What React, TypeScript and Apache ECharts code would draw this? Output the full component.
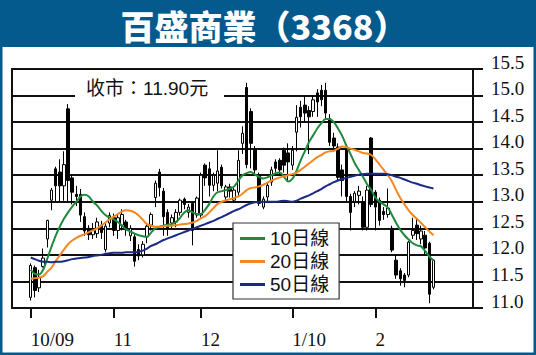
import React, { useEffect, useRef } from "react";
import * as echarts from "echarts";

// ---- data ----
const tickLabels = ["10/09", "11", "12", "1/10", "2"];
const tickDataIndex = [0, 20, 41, 63, 83];
const padBefore = 4;
const padAfter = 9;

const openP = [11.20,11.76,11.38,11.78,12.30,13.03,13.62,13.56,13.30,14.75,13.45,13.14,13.14,12.72,12.50,12.38,12.40,12.56,12.10,12.60,
12.70,12.46,12.56,12.62,12.36,12.34,12.10,12.00,12.34,12.56,13.08,13.56,13.20,12.80,12.60,12.62,12.80,13.05,12.80,12.97,12.75,
12.75,13.69,13.62,13.31,13.35,13.65,13.09,13.28,13.03,13.18,14.10,15.15,14.70,14.00,13.50,12.90,13.09,13.37,13.75,13.78,13.97,13.92,
13.69,14.31,14.78,14.82,14.72,14.70,15.05,15.10,15.10,14.57,14.20,14.03,13.60,14.00,13.10,13.00,13.12,12.99,12.52,14.20,
13.18,13.03,12.82,12.76,12.50,11.90,11.70,11.62,11.62,12.37,12.56,12.30,12.37,12.22,11.39];
const closeP = [11.80,11.33,11.58,11.94,12.65,13.22,13.30,13.30,13.70,13.40,13.18,13.10,12.75,12.45,12.38,12.46,12.62,12.42,12.54,12.74,
12.46,12.70,12.76,12.50,12.50,11.88,11.98,12.20,12.54,12.76,13.35,13.27,12.72,12.50,12.70,12.80,13.03,12.95,12.90,12.46,13.07,
13.50,13.45,13.31,13.50,13.58,13.30,13.28,13.20,13.22,13.78,14.29,13.70,14.10,13.60,12.97,13.05,13.31,13.60,13.63,13.60,13.69,13.75,
13.97,14.59,14.60,14.67,14.60,14.92,14.88,14.92,14.67,14.12,14.05,13.46,13.40,13.10,12.80,13.16,13.20,12.52,13.22,12.95,
12.90,12.65,12.76,12.88,12.09,11.62,11.55,11.52,12.24,12.46,12.40,12.45,12.13,11.26,11.90];
const lowP = [11.14,11.20,11.30,11.76,12.14,12.84,13.00,13.00,13.02,13.00,12.95,12.92,12.62,12.36,12.28,12.30,12.32,12.30,12.05,12.52,
12.36,12.30,12.46,12.36,12.26,11.78,11.90,11.95,12.22,12.46,12.90,13.10,12.36,12.36,12.50,12.52,12.74,12.86,12.70,12.18,12.70,
12.70,13.30,13.10,13.20,13.20,13.25,13.00,13.08,12.98,13.10,13.90,13.63,13.63,13.50,12.92,12.86,13.00,13.30,13.55,13.50,13.55,13.40,
13.60,13.95,14.40,14.50,13.90,14.60,14.60,14.80,14.55,14.05,13.95,13.40,13.10,13.00,12.46,12.90,12.95,12.46,12.46,12.90,
12.46,12.55,12.66,12.70,12.05,11.55,11.42,11.39,11.58,12.30,12.28,12.20,12.00,11.09,11.35];
const highP = [11.84,11.80,11.72,12.12,12.66,13.26,13.66,13.80,13.95,14.84,13.50,13.30,13.24,12.80,12.56,12.60,12.70,12.64,12.60,12.80,
12.78,12.76,12.86,12.66,12.56,12.40,12.20,12.26,12.60,12.80,13.40,13.62,13.26,12.86,12.76,12.86,13.06,13.08,12.96,13.00,13.10,
13.55,13.72,13.75,13.55,13.97,13.70,13.32,13.34,13.26,13.97,14.42,15.24,14.76,14.05,13.55,13.10,13.36,13.66,13.80,13.82,14.02,14.10,
14.05,14.82,14.90,15.00,14.80,15.00,15.12,15.20,15.24,14.65,14.30,14.10,13.70,14.05,13.15,13.20,13.30,13.10,13.30,14.22,
13.22,13.08,12.90,13.25,12.55,12.00,11.75,11.66,12.26,12.70,12.68,12.55,12.45,12.25,11.92];

const ma10 = [11.72,11.64,11.63,11.72,11.93,12.15,12.36,12.53,12.68,12.80,12.91,13.00,13.10,13.13,13.10,13.00,12.93,12.83,12.75,12.70,
12.67,12.62,12.55,12.48,12.44,12.40,12.37,12.35,12.34,12.42,12.50,12.53,12.55,12.57,12.58,12.62,12.70,12.80,12.84,12.80,12.77,
12.77,12.85,12.96,13.10,13.18,13.20,13.22,13.25,13.29,13.40,13.50,13.54,13.56,13.51,13.47,13.44,13.46,13.50,13.54,13.55,13.47,13.38,
13.43,13.58,13.78,13.95,14.12,14.25,14.38,14.48,14.56,14.56,14.50,14.38,14.24,14.06,13.90,13.73,13.60,13.47,13.33,13.22,
13.08,13.00,12.95,12.89,12.75,12.60,12.47,12.37,12.29,12.22,12.18,12.16,12.07,11.97,11.89];
const ma20 = [11.55,11.56,11.57,11.60,11.68,11.76,11.88,11.99,12.10,12.20,12.27,12.32,12.36,12.39,12.43,12.46,12.50,12.55,12.61,12.67,
12.72,12.77,12.82,12.84,12.83,12.80,12.74,12.66,12.58,12.55,12.53,12.53,12.54,12.55,12.55,12.56,12.57,12.58,12.59,12.61,12.64,
12.69,12.73,12.80,12.88,12.96,13.00,13.03,13.05,13.07,13.10,13.15,13.22,13.26,13.27,13.29,13.32,13.36,13.40,13.43,13.46,13.48,13.50,
13.52,13.55,13.60,13.66,13.72,13.78,13.84,13.88,13.93,13.95,13.96,14.00,14.04,14.03,14.00,13.98,13.95,13.92,13.91,13.88,
13.80,13.70,13.60,13.50,13.38,13.22,13.07,12.95,12.84,12.75,12.68,12.60,12.52,12.44,12.37];
const ma50 = [11.95,11.92,11.89,11.87,11.87,11.86,11.87,11.87,11.88,11.90,11.92,11.93,11.94,11.95,11.96,11.98,11.99,12.00,12.02,12.03,
12.04,12.04,12.04,12.05,12.05,12.05,12.06,12.08,12.12,12.17,12.20,12.24,12.28,12.31,12.34,12.37,12.40,12.43,12.46,12.49,12.52,
12.55,12.58,12.61,12.64,12.68,12.71,12.75,12.79,12.83,12.86,12.90,12.94,12.97,12.99,13.00,13.00,13.00,13.00,13.00,13.01,13.02,13.01,
13.00,13.02,13.06,13.09,13.12,13.16,13.20,13.24,13.29,13.33,13.37,13.40,13.43,13.45,13.47,13.49,13.51,13.52,13.53,13.53,
13.53,13.53,13.53,13.52,13.50,13.47,13.45,13.42,13.39,13.36,13.34,13.31,13.29,13.27,13.25];

const seriesNames = ["10日線", "20日線", "50日線"];
const seriesColors = ["#1f8a3c", "#f5871f", "#1c2a84"];
const titleText = "百盛商業（3368）";
const closeNote = "收市：11.90元";

export default function App() {
  const ref = useRef<HTMLDivElement>(null);
  useEffect(() => {
    document.body.style.margin = "0";
    if (!ref.current) return;
    const chart = echarts.init(ref.current, undefined, { renderer: "svg" });
    const n = openP.length;
    const total = padBefore + n + padAfter;
    const cats = Array.from({ length: total }, (_, i) => String(i));
    const labelMap: Record<number, string> = {};
    tickDataIndex.forEach((d, k) => (labelMap[d + padBefore] = tickLabels[k]));
    const isTick = (i: number) => labelMap[i] !== undefined;
    const pre = Array(padBefore).fill(null);
    const post = Array(padAfter).fill(null);
    const candle = [
      ...pre.map(() => "-"),
      ...openP.map((o, i) => [o, closeP[i], lowP[i], highP[i]]),
      ...post.map(() => "-"),
    ];
    const mas = [ma10, ma20, ma50];
    const serif = "'Liberation Serif', 'DejaVu Serif', serif";
    const sans = "'Liberation Sans', 'Noto Sans CJK TC', sans-serif";
    chart.setOption({
      animation: false,
      backgroundColor: "#ffffff",
      grid: {
        left: 12, right: 63, top: 69, bottom: 47,
        show: true, borderColor: "#111", borderWidth: 2, backgroundColor: "transparent",
      },
      xAxis: {
        type: "category",
        data: cats,
        boundaryGap: true,
        axisLine: { show: true, lineStyle: { color: "#111", width: 2 } },
        axisTick: {
          show: true, alignWithLabel: true, length: 10,
          interval: (i: number) => isTick(i),
          lineStyle: { color: "#111", width: 2 },
        },
        axisLabel: {
          interval: (i: number) => isTick(i),
          formatter: (_v: string, i: number) => labelMap[i] ?? "",
          align: "left", margin: 22,
          fontFamily: serif, fontSize: 19, color: "#111",
        },
        splitLine: { show: false },
      },
      yAxis: {
        type: "value", position: "right", min: 11, max: 15.5, interval: 0.5, scale: true,
        axisLine: { show: true, lineStyle: { color: "#111", width: 2 } },
        axisTick: { show: true, length: 10, lineStyle: { color: "#111", width: 2 } },
        axisLabel: {
          formatter: (v: number) => v.toFixed(1), margin: 18,
          fontFamily: serif, fontSize: 19, color: "#111",
          verticalAlign: "bottom", lineHeight: 14,
        },
        splitLine: { show: true, lineStyle: { color: "#111", width: 2 } },
      },
      legend: {
        data: seriesNames, orient: "vertical", left: 233, top: 223,
        icon: "rect", itemWidth: 25, itemHeight: 3, itemGap: 4,
        backgroundColor: "#fff", borderColor: "#333", borderWidth: 1.2,
        padding: [6, 10, 5, 7], selectedMode: false, z: 20,
        textStyle: { fontFamily: sans, fontSize: 19, color: "#111", lineHeight: 19 },
      },
      graphic: [
        { type: "rect", z: 100, shape: { x: 0, y: 0, width: 536, height: 47 }, style: { fill: "#045a8d" } },
        { type: "rect", z: 100, shape: { x: 0, y: 0, width: 2.5, height: 355 }, style: { fill: "#045a8d" } },
        { type: "rect", z: 100, shape: { x: 533.5, y: 0, width: 2.5, height: 355 }, style: { fill: "#045a8d" } },
        { type: "rect", z: 100, shape: { x: 0, y: 352.5, width: 536, height: 2.5 }, style: { fill: "#045a8d" } },
        {
          type: "text", z: 101, x: 264, y: 25,
          style: {
            text: titleText, fill: "#fff", font: "900 34px 'Noto Sans CJK TC'",
            align: "center", verticalAlign: "middle", textAlign: "center", textVerticalAlign: "middle",
          },
        },
        { type: "rect", z: 100, shape: { x: 75, y: 78, width: 149, height: 20 }, style: { fill: "#fff" } },
        {
          type: "text", z: 101, x: 86, y: 88,
          style: {
            text: closeNote, fill: "#111", font: "19px 'Liberation Sans', 'Noto Sans CJK TC'",
            align: "left", verticalAlign: "middle", textAlign: "left", textVerticalAlign: "middle",
          },
        },
      ],
      series: [
        {
          type: "candlestick", data: candle, barWidth: 3, z: 2,
          itemStyle: { color: "#fff", color0: "#000", borderColor: "#000", borderColor0: "#000", borderWidth: 1 },
        },
        ...mas.map((m, k) => ({
          type: "line", name: seriesNames[k], data: [...pre, ...m, ...post],
          showSymbol: false, smooth: 0.3, z: 3,
          lineStyle: { color: seriesColors[k], width: 2 },
          itemStyle: { color: seriesColors[k] },
        })),
      ],
    });
    return () => chart.dispose();
  }, []);
  return <div ref={ref} style={{ width: 536, height: 355 }} />;
}
